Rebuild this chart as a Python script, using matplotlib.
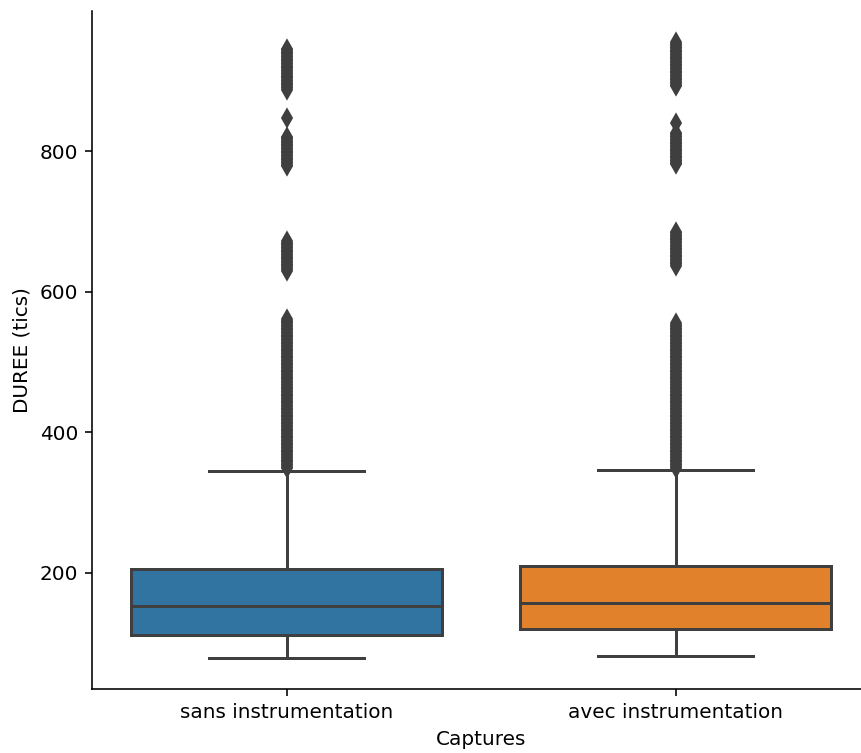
import matplotlib
matplotlib.use("Agg")
import matplotlib.pyplot as plt

# Durations (ticks) summary per capture mode
categories = ["sans instrumentation", "avec instrumentation"]
box_colors = ["#3274a1", "#e1812c"]

q1 = [111, 119]
median = [152, 157]
q3 = [205, 209.5]
whisker_low = [78, 81]
whisker_high = [345, 346]

sans_fliers = [
    349, 351, 353, 355, 357, 359, 361, 363, 365, 367, 369, 371, 373, 375,
    377, 379, 381, 383, 385, 387, 389, 391, 393, 395, 397, 399, 401, 403,
    405, 407, 409, 411, 413, 415, 417, 419, 421, 423, 425, 427, 429, 431,
    433, 435, 437, 439, 441, 443, 445, 447, 449, 451, 453, 455, 457, 459,
    461, 463, 465, 467, 469, 471, 473, 475, 477, 479, 481, 483, 485, 487,
    489, 491, 493, 495, 497, 499, 501, 503, 505, 507, 509, 511, 513, 515,
    517, 519, 521, 523, 525, 527, 529, 531, 533, 535, 537, 539, 541, 543,
    545, 547, 549, 551, 553, 555, 557, 559, 561,
    630, 632, 634, 636, 638, 640, 642, 644, 646, 648, 650, 652, 654, 656,
    658, 660, 662, 664, 666, 668, 670, 672,
    779, 781, 783, 785, 787, 789, 791, 793, 795, 797, 799, 801, 803, 805,
    807, 809, 811, 813, 815, 817, 819, 821,
    847,
    888, 890, 892, 894, 896, 898, 900, 902, 904, 906, 908, 910, 912, 914,
    916, 918, 920, 922, 924, 926, 928, 930, 932, 934, 936, 938, 940, 942,
    944, 946,
]

avec_fliers = [
    349, 351, 353, 355, 357, 359, 361, 363, 365, 367, 369, 371, 373, 375,
    377, 379, 381, 383, 385, 387, 389, 391, 393, 395, 397, 399, 401, 403,
    405, 407, 409, 411, 413, 415, 417, 419, 421, 423, 425, 427, 429, 431,
    433, 435, 437, 439, 441, 443, 445, 447, 449, 451, 453, 455, 457, 459,
    461, 463, 465, 467, 469, 471, 473, 475, 477, 479, 481, 483, 485, 487,
    489, 491, 493, 495, 497, 499, 501, 503, 505, 507, 509, 511, 513, 515,
    517, 519, 521, 523, 525, 527, 529, 531, 533, 535, 537, 539, 541, 543,
    545, 547, 549, 551, 553, 555,
    637, 639, 641, 643, 645, 647, 649, 651, 653, 655, 657, 659, 661, 663,
    665, 667, 669, 671, 673, 675, 677, 679, 681, 683, 685,
    782, 784, 786, 788, 790, 792, 794, 796, 798, 800, 802, 804, 806, 808,
    810, 812, 814, 816, 818, 820, 822, 824, 826,
    841,
    893, 895, 897, 899, 901, 903, 905, 907, 909, 911, 913, 915, 917, 919,
    921, 923, 925, 927, 929, 931, 933, 935, 937, 939, 941, 943, 945, 947,
    949, 951, 953, 956,
]

fliers = [sans_fliers, avec_fliers]

line_gray = "#3f3f3f"

fig = plt.figure(figsize=(861 / 144, 753 / 144), dpi=144)
ax = fig.add_axes([92 / 861, 64 / 753, 778 / 861, 678 / 753])

stats = []
for i, name in enumerate(categories):
    stats.append({
        "label": name,
        "q1": q1[i],
        "med": median[i],
        "q3": q3[i],
        "whislo": whisker_low[i],
        "whishi": whisker_high[i],
        "fliers": fliers[i],
    })

artists = ax.bxp(
    stats,
    positions=[0, 1],
    widths=0.8,
    capwidths=0.4,
    patch_artist=True,
    boxprops=dict(edgecolor=line_gray, linewidth=1.5),
    medianprops=dict(color=line_gray, linewidth=1.5),
    whiskerprops=dict(color=line_gray, linewidth=1.5),
    capprops=dict(color=line_gray, linewidth=1.5),
    flierprops=dict(marker="d", markerfacecolor=line_gray,
                    markeredgecolor=line_gray, markersize=5,
                    markeredgewidth=1.8, linestyle="none"),
)
for patch, c in zip(artists["boxes"], box_colors):
    patch.set_facecolor(c)

ax.set_xlim(-0.5, 1.5)
ax.set_xticks([0, 1])
ax.set_xticklabels(categories)
ax.set_yticks([200, 400, 600, 800])
ax.set_xlabel("Captures")
ax.set_ylabel("DUREE (tics)")
ax.spines["top"].set_visible(False)
ax.spines["right"].set_visible(False)

fig.savefig("out.png", dpi=144)
